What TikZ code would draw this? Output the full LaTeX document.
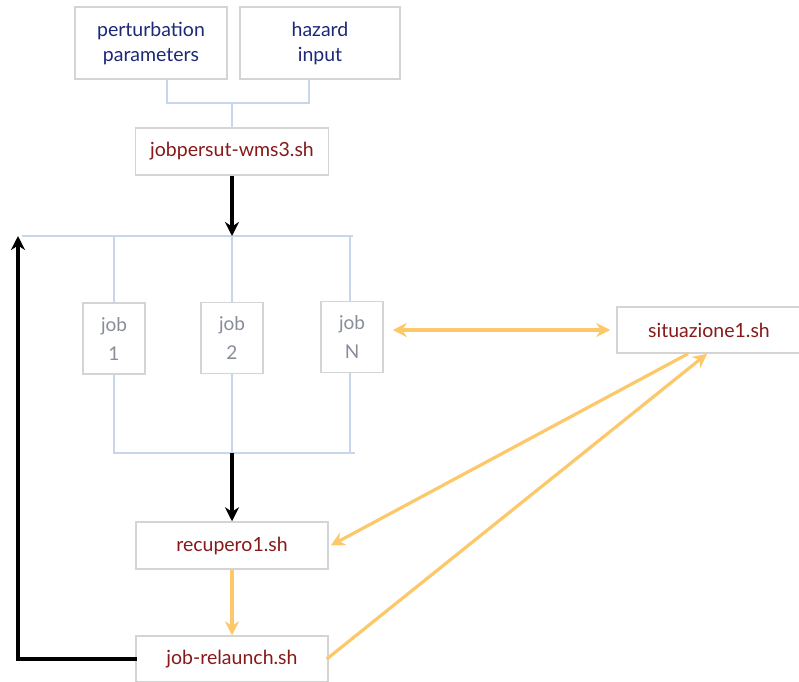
\documentclass[tikz,border=0pt]{standalone}
\usepackage{fontspec}
\setmainfont{Lato}
\usetikzlibrary{arrows.meta}
\definecolor{navy}{RGB}{28,40,120}
\definecolor{dred}{RGB}{135,25,25}
\definecolor{jgray}{RGB}{135,142,152}
\definecolor{bbord}{RGB}{212,212,212}
\definecolor{lblue}{RGB}{200,214,236}
\definecolor{yel}{RGB}{252,200,106}
\tikzset{
  box/.style={draw=bbord, line width=1.5pt, fill=white, inner sep=0pt, align=center, font=\fontsize{19.5}{25}\selectfont},
  inbox/.style={box, text=navy},
  shbox/.style={box, text=dred},
  jobbox/.style={box, text=jgray, minimum width=62pt, minimum height=71pt, font=\fontsize{19}{29}\selectfont},
  bus/.style={draw=lblue, line width=1.1pt},
  blk/.style={draw=black, line width=3.4pt, -{Stealth[length=14pt,width=14pt]}},
  yl/.style={draw=yel, line width=3.2pt, -{Stealth[length=14pt,width=14pt]}},
}
\begin{document}
\begin{tikzpicture}[x=1pt,y=-1pt]
\useasboundingbox (0,0) rectangle (799,681);
% nodes
\node[inbox, minimum width=152pt, minimum height=72pt] (pert) at (151,43) {perturbation\\parameters};
\node[inbox, minimum width=160pt, minimum height=72pt] (haz) at (320,43) {hazard\\input};
\node[shbox, minimum width=193pt, minimum height=47pt] (jps) at (232,151.5) {jobpersut-wms3.sh};
\node[jobbox] (j1) at (114,338.5) {job\\1};
\node[jobbox] (j2) at (232,338) {job\\2};
\node[jobbox] (jN) at (352,337) {job\\N};
\node[shbox, minimum width=184pt, minimum height=46pt] (sit) at (709,330) {situazione1.sh};
\node[shbox, minimum width=192pt, minimum height=47pt] (rec) at (232,545.5) {recupero1.sh};
\node[shbox, minimum width=192pt, minimum height=46pt] (rel) at (232,659) {job-relaunch.sh};
% coordinates
\coordinate (jn) at (232,103);
\coordinate (tb) at (232,236);
\coordinate (tl) at (18,236);
\coordinate (tr) at (353,236);
\coordinate (bb) at (232,453);
\coordinate (bl) at (114,453);
\coordinate (br) at (355,453);
% light-blue buses
\draw[bus] ([xshift=16pt]pert.south) |- (jn) -| ([xshift=-11pt]haz.south);
\draw[bus] (jn) -- (jps.north);
\draw[bus] (22,236) -- (tr);
\draw[bus] (114,236) -- (j1.north);
\draw[bus] (tb) -- (j2.north);
\draw[bus] (350,236) -- ([xshift=-2pt]jN.north);
\draw[bus] (j1.south) -- (bl) -- (br);
\draw[bus] (j2.south) -- (bb);
\draw[bus] ([xshift=-2pt]jN.south) -- (350,453);
% black arrows
\draw[blk] (jps.south) -- (tb);
\draw[blk] (bb) -- (rec.north);
\draw[blk, line cap=rect] (rel.west) -| (tl);
% yellow arrows
\draw[yl] (rec.south) -- (rel.north);
\draw[yel, line width=3.2pt, {Stealth[length=14pt,width=14pt]}-{Stealth[length=14pt,width=14pt]}] ([xshift=9pt]jN.east |- sit.west) -- ([xshift=-6pt]sit.west);
\draw[yl] ([xshift=-21pt]sit.south) -- ([xshift=2pt]rec.east);
\draw[yl] ([xshift=-2pt]rel.east) -- ([xshift=-2pt]sit.south);
\end{tikzpicture}
\end{document}
